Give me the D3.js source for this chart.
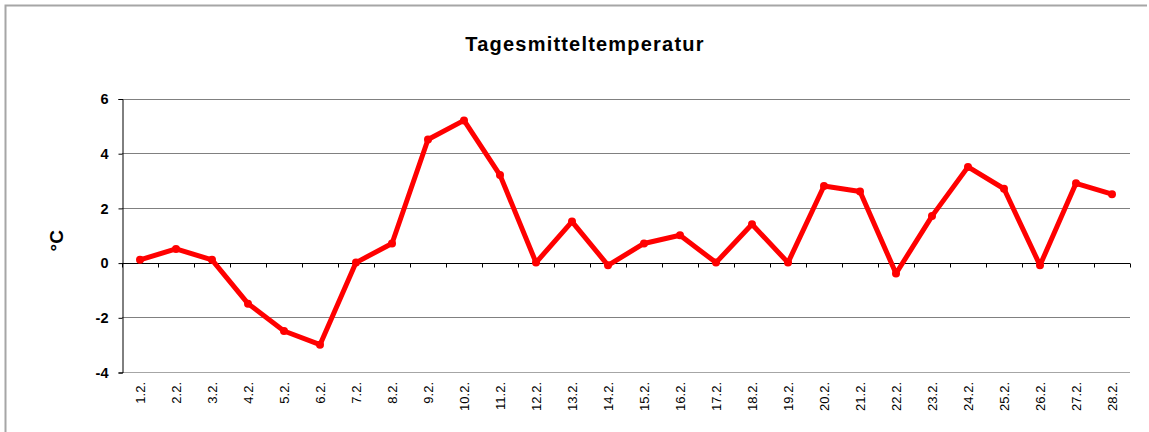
<!DOCTYPE html>
<html>
<head>
<meta charset="utf-8">
<script src="https://cdn.jsdelivr.net/npm/d3@7"></script>
<style>
  body { margin: 0; background: #fff; }
  svg { display: block; font-family: "Liberation Sans", Arial, sans-serif; }
</style>
</head>
<body>
<div id="chart"></div>
<script>
// Daily mean temperature, February
const days = ['1.2.', '2.2.', '3.2.', '4.2.', '5.2.', '6.2.', '7.2.', '8.2.', '9.2.', '10.2.',
  '11.2.', '12.2.', '13.2.', '14.2.', '15.2.', '16.2.', '17.2.', '18.2.', '19.2.', '20.2.',
  '21.2.', '22.2.', '23.2.', '24.2.', '25.2.', '26.2.', '27.2.', '28.2.'];
const temps = [0.1, 0.5, 0.1, -1.5, -2.5, -3.0, 0.0, 0.7, 4.5, 5.2,
  3.2, 0.0, 1.5, -0.1, 0.7, 1.0, 0.0, 1.4, 0.0, 2.8,
  2.6, -0.4, 1.7, 3.5, 2.7, -0.1, 2.9, 2.5];
const yTicks = [-4, -2, 0, 2, 4, 6];

const width = 1149, height = 432;
const margin = { top: 98.5, right: 19, bottom: 60, left: 122 };

const svg = d3.select('#chart').append('svg')
  .attr('width', width)
  .attr('height', height);

// outer chart frame (only top/left edges are inside the picture)
svg.append('path')
  .attr('d', `M5.5,${height} V5.5 H1147`)
  .attr('fill', 'none')
  .attr('stroke', '#a6a6a6')
  .attr('stroke-width', 2);

const x = d3.scaleBand()
  .domain(days)
  .range([margin.left, width - margin.right]);

const y = d3.scaleLinear()
  .domain([-4, 6])
  .range([height - margin.bottom, margin.top]);

// gridlines
svg.append('g')
  .selectAll('line')
  .data(yTicks.filter(d => d !== 0))
  .join('line')
  .attr('x1', margin.left).attr('x2', width - margin.right)
  .attr('y1', d => Math.round(y(d)) + 0.5).attr('y2', d => Math.round(y(d)) + 0.5)
  .attr('stroke', d => d === -4 ? '#a6a6a6' : '#808080')
  .attr('stroke-width', 1);

// y axis
const yAxis = svg.append('g')
  .attr('transform', `translate(${margin.left + 0.5},0.5)`)
  .call(d3.axisLeft(y).tickValues(yTicks).tickSize(4).tickPadding(10).tickFormat(d => String(d)));
yAxis.select('.domain').attr('stroke', '#000');
yAxis.selectAll('text')
  .attr('font-size', 14.5)
  .attr('font-weight', 'bold')
  .attr('fill', '#000')
  .attr('font-family', '"Liberation Sans", Arial, sans-serif');

// x axis sits on zero line, ticks at category boundaries
const zeroY = Math.round(y(0)) + 0.5;
svg.append('line')
  .attr('x1', margin.left).attr('x2', width - margin.right)
  .attr('y1', zeroY).attr('y2', zeroY)
  .attr('stroke', '#000');

const bounds = days.map(d => x(d)).concat([x.range()[1]]);
svg.append('g')
  .selectAll('line')
  .data(bounds)
  .join('line')
  .attr('x1', d => Math.round(d) + 0.5).attr('x2', d => Math.round(d) + 0.5)
  .attr('y1', zeroY).attr('y2', zeroY + 4)
  .attr('stroke', '#000');

// x labels below plot, rotated
svg.append('g')
  .selectAll('text')
  .data(days)
  .join('text')
  .attr('transform', d => `translate(${x(d) + x.bandwidth() / 2 + 5},${height - margin.bottom + 10}) rotate(-90)`)
  .attr('text-anchor', 'end')
  .attr('font-size', 13)
  .attr('fill', '#000')
  .text(d => d);

// line + markers
const line = d3.line()
  .x((d, i) => x(days[i]) + x.bandwidth() / 2)
  .y(d => y(d));

svg.append('path')
  .datum(temps)
  .attr('d', line)
  .attr('fill', 'none')
  .attr('stroke', '#ff0000')
  .attr('stroke-width', 5)
  .attr('stroke-linejoin', 'round');

svg.append('g')
  .selectAll('circle')
  .data(temps)
  .join('circle')
  .attr('cx', (d, i) => x(days[i]) + x.bandwidth() / 2)
  .attr('cy', d => y(d))
  .attr('r', 4)
  .attr('fill', '#ff0000');

// title
svg.append('text')
  .attr('x', 585)
  .attr('y', 51)
  .attr('text-anchor', 'middle')
  .attr('font-size', 20)
  .attr('font-weight', 'bold')
  .attr('letter-spacing', 1.2)
  .text('Tagesmitteltemperatur');

// y label
svg.append('text')
  .attr('transform', `translate(63,${y(0.8)}) rotate(-90)`)
  .attr('text-anchor', 'middle')
  .attr('font-size', 19)
  .attr('font-weight', 'bold')
  .text('°C');
</script>
</body>
</html>
